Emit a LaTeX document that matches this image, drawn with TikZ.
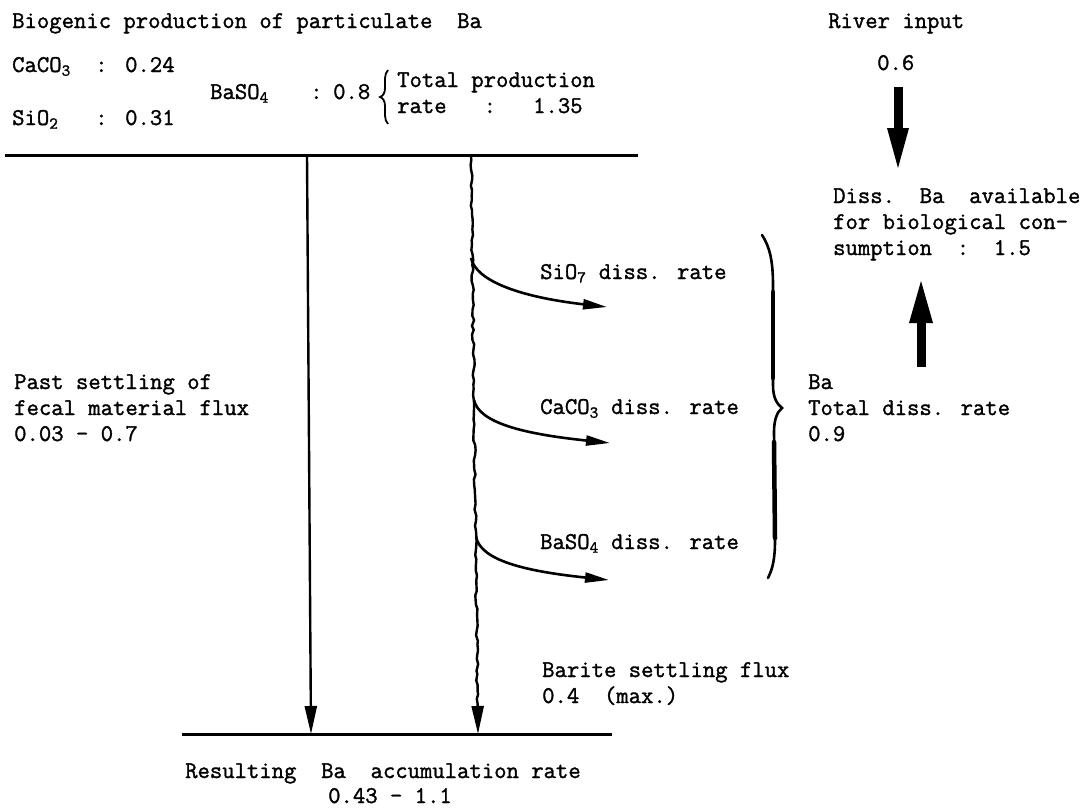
\documentclass[tikz,border=0pt]{standalone}
\usepackage{fontspec}
\newfontfamily\tw{Latin Modern Mono}[FakeBold=1.4]
\usetikzlibrary{arrows.meta,decorations.pathmorphing,calc}
\begin{document}
\begin{tikzpicture}[x=1pt,y=-1pt,
  txt/.style={font=\tw\fontsize{24}{26}\selectfont, inner sep=0pt, anchor=base west, align=left},
  rule/.style={line width=3pt},
  fall/.style={line width=2.4pt, -{Triangle[length=28pt,width=12pt]}},
  branch/.style={line width=2.6pt, -{Triangle[length=24pt,width=10pt]}},
  shaft/.style={line width=9pt},
  bracestyle/.style={line width=2.6pt, line cap=round}]
\useasboundingbox (0,0) rectangle (1084,807);
\pgfmathsetseed{7}
% texts (multi-line nodes: base = baseline of last line)
\node[txt] (title) at (12,28) {Biogenic production of particulate~~Ba};
\node[txt] (caco) at (12,72) {\makebox[83pt][l]{CaCO\textsubscript{3}}\makebox[30pt][l]{:}0.24};
\node[txt] (sio) at (12,125) {\makebox[83pt][l]{SiO\textsubscript{2}}\makebox[30pt][l]{:}0.31};
\node[txt] (baso) at (210,99) {\makebox[100pt][l]{BaSO\textsubscript{4}}\makebox[23pt][l]{:}0.8};
\node[txt] (total) at (397,113) {Total production\\rate~~~:~~~1.35};
\node[txt] (river) at (828,28) {River input};
\node[txt] (riverval) at (877,70) {0.6};
\node[txt] (avail) at (833,255) {Diss.~~Ba~~available\\for biological con-\\sumption~~:~~1.5};
\node[txt] (fast) at (14,441) {Past settling of\\fecal material flux\\0.03 - 0.7};
\node[txt] (sid) at (540,279) {SiO\textsubscript{7} diss. rate};
\node[txt] (cad) at (540,414) {CaCO\textsubscript{3} diss. rate};
\node[txt] (bad) at (540,549) {BaSO\textsubscript{4} diss. rate};
\node[txt] (totd) at (808,441) {Ba\\Total diss. rate\\0.9};
\node[txt] (barite) at (542,703) {Barite settling flux\\0.4~~(max.)};
\node[txt] (result) at (185,778) {Resulting~~Ba~~accumulation rate};
\node[txt] (resval) at (328,803) {0.43 - 1.1};
% coordinates
\coordinate (tl) at (5,155);   \coordinate (tr) at (638,155);
\coordinate (bl) at (182,734); \coordinate (br) at (612,734);
\coordinate (f1) at (307,155); \coordinate (f2) at (311,734);
\coordinate (w1) at (471,155); \coordinate (w2) at (478,734);
\coordinate (s1) at (471,258); \coordinate (s2) at (607,307);
\coordinate (c1) at (474,400); \coordinate (c2) at (610,443);
\coordinate (b1) at (476,537); \coordinate (b2) at (609,580);
\coordinate (r1) at (898,87);  \coordinate (rh) at (898,128); \coordinate (r2) at (898,168);
\coordinate (u1) at (921,367); \coordinate (uh) at (921,323); \coordinate (u2) at (921,281);
% horizontal rules
\draw[rule] (tl) -- (tr);
\draw[rule] (bl) -- (br);
% settling fluxes
\draw[fall] (f1) -- (f2);
\draw[line width=2.4pt, decorate, decoration={random steps, segment length=5pt, amplitude=1.1pt, post length=30pt}, -{Triangle[length=28pt,width=12pt]}] (w1) -- (w2);
% dissolution branches
\draw[branch] (s1) .. controls (476,281) and (520,297) .. (s2);
\draw[branch] (c1) .. controls (479,423) and (524,434) .. (c2);
\draw[branch] (b1) .. controls (481,560) and (523,571) .. (b2);
% thick arrows: river input and total dissolution to dissolved Ba
\draw[shaft] (r1) -- ($(rh)+(0,4)$);
\fill ($(rh)+(-11,0)$) -- ($(rh)+(11,0)$) -- (r2) -- cycle;
\draw[shaft] (u1) -- ($(uh)+(0,-4)$);
\fill ($(uh)+(-12,0)$) -- ($(uh)+(12,0)$) -- (u2) -- cycle;
% small brace
\draw[line width=1.8pt] (388,70) .. controls (384,74) and (385,82) .. (385,88) .. controls (385,93) and (383,96) .. (380,97) .. controls (383,98) and (385,101) .. (385,106) .. controls (385,112) and (384,120) .. (388,124);
% big brace
\draw[bracestyle] (762,235) .. controls (770,247) and (773,262) .. (773,285) -- (773,385) .. controls (773,398) and (777,404) .. (782,408) .. controls (777,412) and (774,420) .. (774,432) -- (775,540) .. controls (775,558) and (773,568) .. (768,578);
\draw[line width=4.5pt, line cap=round] (773,292) -- (773,378);
\draw[line width=4.5pt, line cap=round] (774,442) -- (775,538);
\end{tikzpicture}
\end{document}
